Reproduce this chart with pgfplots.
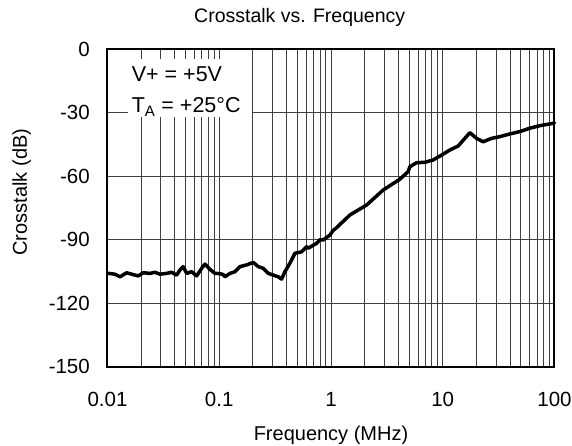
\documentclass[border=0pt]{standalone}
\usepackage{pgfplots}
\pgfplotsset{compat=1.18}
\usepackage{fontspec}
\setmainfont{Liberation Sans}
\begin{document}
\begin{tikzpicture}
\useasboundingbox (0,0) rectangle (572bp,446bp);
\begin{axis}[
  at={(107.5bp,79.3bp)}, anchor=south west,
  width=447bp, height=317.4bp, scale only axis,
  xmode=log, xmin=0.01, xmax=100,
  ymin=-150, ymax=0,
  xtick={0.01,0.1,1,10,100},
  xticklabels={0.01,0.1,1,10,100},
  ytick={-150,-120,-90,-60,-30,0},
  yticklabels={-150,-120,-90,-60,-30,0},
  major tick length=0pt, minor tick length=0pt,
  xmajorgrids=true, xminorgrids=true, ymajorgrids=true,
  grid style={black!75, line width=0.9bp},
  minor grid style={black!75, line width=0.9bp},
  axis line style={black, line width=2bp},
  tick label style={font=\fontsize{20.5bp}{24bp}\selectfont, inner sep=0pt},
  yticklabel style={anchor=east, xshift=-17.5bp},
  xticklabel style={anchor=north, yshift=-25bp},
  xlabel={Frequency (MHz)},
  ylabel={Crosstalk (dB)},
  label style={font=\fontsize{20bp}{24bp}\selectfont, inner sep=0pt},
  xlabel style={at={(axis description cs:0.5,0)}, anchor=base, yshift=-74bp},
  ylabel style={at={(axis description cs:-0.192,0.55)}, anchor=center},
  title={Crosstalk vs. Frequency},
  title style={font=\fontsize{19.5bp}{22bp}\selectfont, inner sep=0pt, at={(axis description cs:0.43,1)}, anchor=base, yshift=21bp},
  clip=false,
]
\fill[white] (rel axis cs:0.046,0.787) rectangle (rel axis cs:0.323,0.969);
\node[anchor=base west, inner sep=0pt, font=\fontsize{21.5bp}{24bp}\selectfont] at (rel axis cs:0.054,0.898) {V+ = +5V};
\node[anchor=base west, inner sep=0pt, font=\fontsize{21.5bp}{24bp}\selectfont] at (rel axis cs:0.054,0.800) {T\textsubscript{A} = +25°C};
\addplot[black, line width=3.5bp, line join=round, line cap=round] coordinates {
(0.0100,-106.0)
(0.0103,-105.9)
(0.01167,-106.3)
(0.01294,-107.5)
(0.01485,-105.6)
(0.01702,-106.5)
(0.01886,-107.1)
(0.02090,-105.6)
(0.0240,-105.9)
(0.0266,-105.4)
(0.0295,-106.3)
(0.0338,-105.9)
(0.0375,-105.4)
(0.0416,-106.7)
(0.0445,-104.3)
(0.0476,-102.7)
(0.0511,-105.9)
(0.0566,-105.1)
(0.0628,-107.1)
(0.0696,-103.5)
(0.0745,-101.5)
(0.0826,-104.0)
(0.0915,-105.9)
(0.1015,-106.0)
(0.1086,-106.5)
(0.1125,-107.5)
(0.1247,-105.9)
(0.1382,-105.1)
(0.1532,-102.7)
(0.1759,-101.9)
(0.2014,-100.7)
(0.2233,-102.7)
(0.2475,-103.5)
(0.2744,-105.9)
(0.3041,-106.7)
(0.3371,-107.5)
(0.3615,-108.6)
(0.3870,-105.1)
(0.4290,-101.1)
(0.4755,-96.4)
(0.5458,-95.7)
(0.605,-93.3)
(0.6254,-94.0)
(0.7432,-91.7)
(0.7957,-90.0)
(0.8516,-90.1)
(0.9777,-87.8)
(1.046,-85.6)
(1.122,-84.3)
(1.476,-78.3)
(2.082,-73.6)
(2.931,-66.5)
(4.133,-61.4)
(4.904,-57.8)
(5.078,-55.5)
(5.831,-53.6)
(6.917,-53.4)
(8.206,-52.3)
(9.757,-50.0)
(11.57,-47.6)
(13.73,-45.7)
(15.77,-42.1)
(17.48,-39.4)
(20.06,-42.1)
(22.98,-43.7)
(27.32,-42.1)
(32.42,-41.3)
(39.83,-40.0)
(48.93,-38.9)
(60.13,-37.3)
(73.87,-36.1)
(97.16,-35.0)
(100,-34.8)
};
\end{axis}
\end{tikzpicture}
\end{document}
